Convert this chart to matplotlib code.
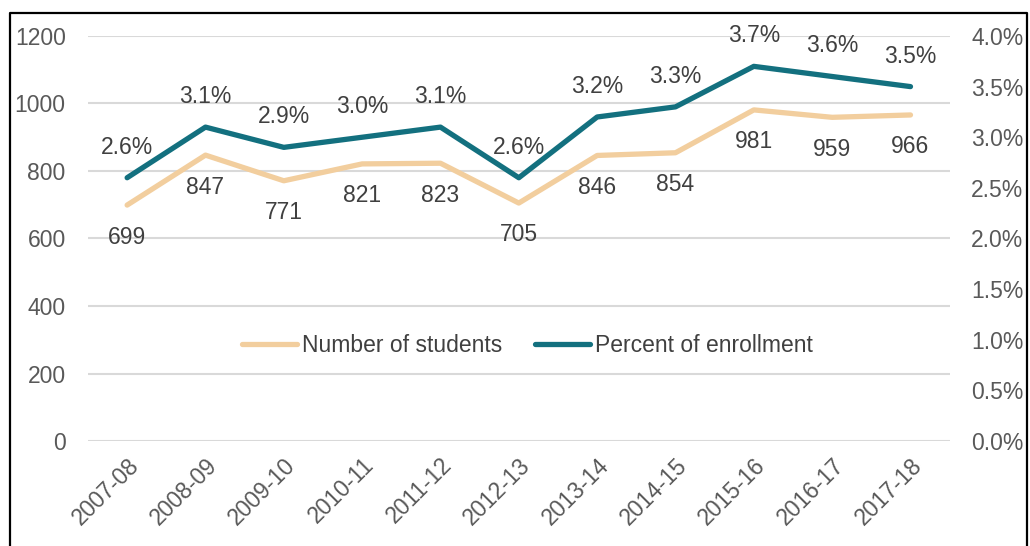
import matplotlib.pyplot as plt
from matplotlib.lines import Line2D

plt.rcParams['font.family'] = ['Liberation Sans', 'DejaVu Sans']

# Dades
years = ['2007-08', '2008-09', '2009-10', '2010-11', '2011-12', '2012-13',
         '2013-14', '2014-15', '2015-16', '2016-17', '2017-18']
students = [699, 847, 771, 821, 823, 705, 846, 854, 981, 959, 966]
percent = [2.6, 3.1, 2.9, 3.0, 3.1, 2.6, 3.2, 3.3, 3.7, 3.6, 3.5]

orange = '#F2CE9E'
teal = '#13707F'
txt = '#404040'
tick_col = '#595959'
fs = 16.5

fig = plt.figure(figsize=(10.30, 5.46), dpi=100)
ax = fig.add_axes([0.0854, 0.1923, 0.8366, 0.7418])
ax2 = ax.twinx()

x = list(range(len(years)))
ax.plot(x, students, color=orange, lw=3.8, solid_capstyle='round', label='Number of students')
ax2.plot(x, percent, color=teal, lw=3.8, solid_capstyle='round', label='Percent of enrollment')

for i, v in enumerate(students):
    ax.annotate(f'{v}', (i, v), xytext=(0, -23), textcoords='offset points',
                ha='center', va='center', fontsize=fs, color=txt)
for i, v in enumerate(percent):
    ax2.annotate(f'{v:.1f}%', (i, v), xytext=(0, 22), textcoords='offset points',
                 ha='center', va='center', fontsize=fs, color=txt)

ax.set_xlim(-0.5, 10.5)
ax.set_ylim(0, 1200)
ax2.set_ylim(0, 4.0)
ax.set_yticks(range(0, 1201, 200))
ax2.set_yticks([i * 0.5 for i in range(9)])
ax2.set_yticklabels([f'{i * 0.5:.1f}%' for i in range(9)])
ax.set_xticks(x)
ax.set_xticklabels(years, rotation=45, ha='right', rotation_mode='anchor')

ax.grid(axis='y', color='#D9D9D9', lw=1.5)
ax.set_axisbelow(True)
for a in (ax, ax2):
    for s in a.spines.values():
        s.set_visible(False)
    a.tick_params(length=0, labelsize=fs, labelcolor=tick_col)
ax.tick_params(axis='y', pad=16)
ax2.tick_params(axis='y', pad=15.5)
ax.tick_params(axis='x', pad=9)

handles = [Line2D([], [], color=orange, lw=3.8, solid_capstyle='round'),
           Line2D([], [], color=teal, lw=3.8, solid_capstyle='round')]
ax.legend(handles, ['Number of students', 'Percent of enrollment'], ncol=2,
          loc='center', bbox_to_anchor=(0.51, 0.235), frameon=False,
          fontsize=fs, labelcolor=txt, handlelength=2.4, handletextpad=0.2,
          columnspacing=1.45)

# Marc exterior
fx = [10 / 1030, 10 / 1030, 1027 / 1030, 1027 / 1030]
fy = [0, 1 - 13 / 546, 1 - 13 / 546, 0]
fig.add_artist(Line2D(fx, fy, transform=fig.transFigure, color='black', lw=1.6))

fig.savefig('out.png', dpi=100)
